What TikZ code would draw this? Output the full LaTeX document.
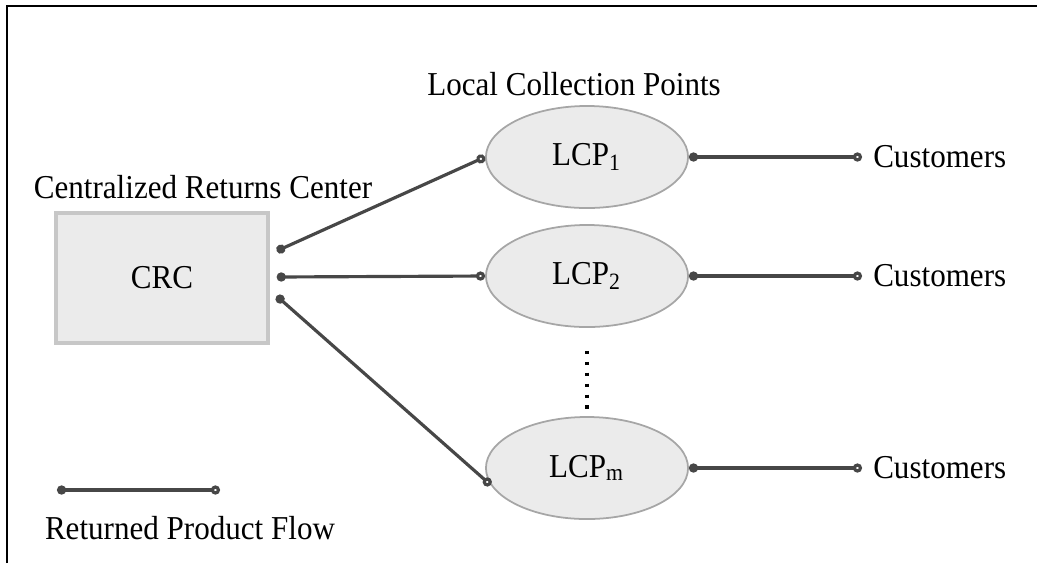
\documentclass[tikz,border=0pt]{standalone}
\usepackage{fontspec}
\setmainfont{Liberation Serif}[FakeStretch=0.93]
\usetikzlibrary{positioning,arrows.meta,shapes.geometric}

\begin{document}
\begin{tikzpicture}[
  x=0.01cm, y=-0.01cm,
  font=\fontsize{9.5}{11}\selectfont,
  crcbox/.style={draw=black!22,line width=0.9pt,fill=black!8,minimum width=2.12cm,minimum height=1.3cm},
  lcp/.style={ellipse,draw=black!35,line width=0.5pt,fill=black!8,minimum width=2.02cm,minimum height=1.02cm,inner sep=0pt},
  cust/.style={anchor=west,inner sep=3pt},
  flow/.style={line width=0.9pt,draw=black!72,{Circle[length=2.6pt]}-{Circle[open,length=2.6pt]}}
]
\useasboundingbox (0,0) rectangle (1037,563);
% frame (cut at right and bottom)
\draw[line width=0.6pt] (7,563) -- (7,6) -- (1037,6);

% ---------------- returns center ----------------
\node (crctitle) at (203,187) {Centralized Returns Center};
\node[crcbox] (crc) at (162,278) {CRC};

% ---------------- collection points ----------------
\node (lcptitle) at (574,84) {Local Collection Points};
\node[lcp] (lcp1) at (587,157) {LCP\textsubscript{1}};
\node[lcp] (lcp2) at (587,276) {LCP\textsubscript{2}};
\node[lcp] (lcpm) at (587,468) {LCP\textsubscript{m}};
\draw[line width=0.9pt,dash pattern=on 0.9pt off 2.2pt] (lcp2.south) ++(0,23) coordinate (dtop) (dtop) -- ([yshift=2pt]lcpm.north);

% ---------------- customers ----------------
\node[cust] (c1) at (862,157) {Customers};
\node[cust] (c2) at (862,276) {Customers};
\node[cust] (cm) at (862,468) {Customers};

% flows
\draw[flow] (lcp1.east) -- (lcp1.east -| c1.west);
\draw[flow] (lcp2.east) -- (lcp2.east -| c2.west);
\draw[flow] (lcpm.east) -- (lcpm.east -| cm.west);
\draw[flow] ([xshift=2pt,yshift=0.27cm]crc.east) -- (lcp1.west);
\draw[flow] ([xshift=2pt,yshift=0.01cm]crc.east) -- (lcp2.west);
\draw[flow] ([xshift=2pt,yshift=-0.18cm]crc.east) -- (lcpm.190);

% ---------------- legend ----------------
\coordinate (lg1) at (57,490);
\coordinate (lg2) at (220,490);
\draw[flow] (lg1) -- (lg2);
\node (lgtext) at (190,528) {Returned Product Flow};
\end{tikzpicture}
\end{document}
